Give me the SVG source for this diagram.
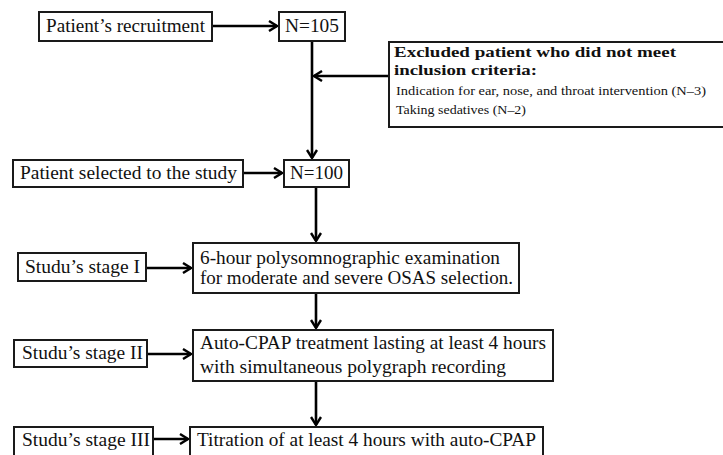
<svg xmlns="http://www.w3.org/2000/svg" width="723" height="455" viewBox="0 0 723 455">
<style>
.box{fill:#fff;stroke:#1a1a1a;stroke-width:2}
.t{font-family:"Liberation Serif","DejaVu Serif",serif;font-size:18px;fill:#111}
.b{font-family:"Liberation Serif","DejaVu Serif",serif;font-size:15.5px;font-weight:bold;fill:#111}
.s{font-family:"Liberation Serif","DejaVu Serif",serif;font-size:11.5px;fill:#111}
.c{fill:none;stroke:#000;stroke-width:2.6}
</style>
<defs>
<marker id="ah" viewBox="0 0 12 12" refX="10" refY="6" markerWidth="12" markerHeight="12" markerUnits="userSpaceOnUse" orient="auto">
<path d="M2,1 L10,6 L2,11" fill="none" stroke="#000" stroke-width="2.4"/>
</marker>
</defs>
<rect width="723" height="455" fill="#fff"/>
<g id="connectors">
<line class="c" x1="212" y1="26" x2="277" y2="26" marker-end="url(#ah)"/>
<line class="c" x1="312" y1="41" x2="312" y2="158" marker-end="url(#ah)"/>
<line class="c" x1="389" y1="76" x2="314" y2="76" marker-end="url(#ah)"/>
<line class="c" x1="243" y1="173" x2="282" y2="173" marker-end="url(#ah)"/>
<line class="c" x1="316" y1="187" x2="316" y2="241" marker-end="url(#ah)"/>
<line class="c" x1="146" y1="268" x2="191" y2="268" marker-end="url(#ah)"/>
<line class="c" x1="316" y1="293" x2="316" y2="328" marker-end="url(#ah)"/>
<line class="c" x1="147" y1="354" x2="191" y2="354" marker-end="url(#ah)"/>
<line class="c" x1="316" y1="381" x2="316" y2="425" marker-end="url(#ah)"/>
<line class="c" x1="153" y1="439" x2="188" y2="439" marker-end="url(#ah)"/>
</g>
<g id="recruitment">
<rect class="box" x="39" y="12" width="173" height="29"/>
<text class="t" x="46" y="32" textLength="159" lengthAdjust="spacingAndGlyphs">Patient’s recruitment</text>
</g>
<g id="n105">
<rect class="box" x="279" y="12" width="66" height="29"/>
<text class="t" x="285" y="32" textLength="54" lengthAdjust="spacingAndGlyphs">N=105</text>
</g>
<g id="excluded">
<rect class="box" x="389" y="42" width="340" height="85"/>
<text class="b" x="394" y="57" textLength="282" lengthAdjust="spacingAndGlyphs">Excluded patient who did not meet</text>
<text class="b" x="394" y="75" textLength="143" lengthAdjust="spacingAndGlyphs">inclusion criteria:</text>
<text class="s" x="396" y="95" textLength="310" lengthAdjust="spacingAndGlyphs">Indication for ear, nose, and throat intervention (N–3)</text>
<text class="s" x="396" y="114" textLength="130" lengthAdjust="spacingAndGlyphs">Taking sedatives (N–2)</text>
</g>
<g id="selected">
<rect class="box" x="13" y="160" width="230" height="27"/>
<text class="t" x="20" y="179" textLength="217" lengthAdjust="spacingAndGlyphs">Patient selected to the study</text>
</g>
<g id="n100">
<rect class="box" x="284" y="160" width="65" height="27"/>
<text class="t" x="290" y="179" textLength="53" lengthAdjust="spacingAndGlyphs">N=100</text>
</g>
<g id="stage1">
<rect class="box" x="18" y="253" width="128" height="28"/>
<text class="t" x="25" y="273" textLength="115" lengthAdjust="spacingAndGlyphs">Studu’s stage I</text>
</g>
<g id="psg">
<rect class="box" x="193" y="243" width="326" height="50"/>
<text class="t" x="200" y="264" textLength="300" lengthAdjust="spacingAndGlyphs">6-hour polysomnographic examination</text>
<text class="t" x="200" y="284" textLength="313" lengthAdjust="spacingAndGlyphs">for moderate and severe OSAS selection.</text>
</g>
<g id="stage2">
<rect class="box" x="14" y="340" width="133" height="27"/>
<text class="t" x="22" y="359" textLength="121" lengthAdjust="spacingAndGlyphs">Studu’s stage II</text>
</g>
<g id="autocpap">
<rect class="box" x="193" y="330" width="360" height="51"/>
<text class="t" x="200" y="349" textLength="346" lengthAdjust="spacingAndGlyphs">Auto-CPAP treatment lasting at least 4 hours</text>
<text class="t" x="200" y="373" textLength="306" lengthAdjust="spacingAndGlyphs">with simultaneous polygraph recording</text>
</g>
<g id="stage3">
<rect class="box" x="14" y="427" width="139" height="35"/>
<text class="t" x="22" y="446" textLength="128" lengthAdjust="spacingAndGlyphs">Studu’s stage III</text>
</g>
<g id="titration">
<rect class="box" x="190" y="427" width="353" height="35"/>
<text class="t" x="197" y="446" textLength="339" lengthAdjust="spacingAndGlyphs">Titration of at least 4 hours with auto-CPAP</text>
</g>
</svg>
